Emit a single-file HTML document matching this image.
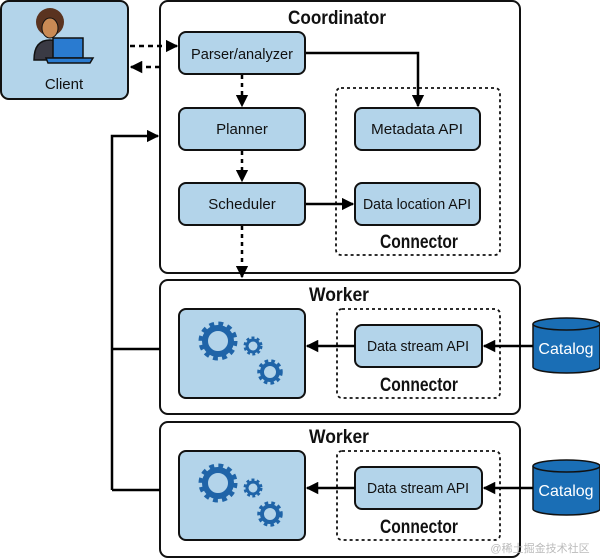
<!DOCTYPE html>
<html><head><meta charset="utf-8"><style>body{margin:0;background:#fff}svg{display:block}text{font-family:"Liberation Sans",sans-serif;fill:#111}</style></head><body>
<svg width="600" height="559" viewBox="0 0 600 559" xmlns="http://www.w3.org/2000/svg">
<defs>
<marker id="a" viewBox="0 0 10 10" refX="9" refY="5" markerWidth="5" markerHeight="5" orient="auto"><path d="M0,0L10,5L0,10z" fill="#000"/></marker>
</defs>
<g stroke="#111" stroke-width="2" fill="#fff">
<rect x="160" y="1" width="360" height="272" rx="8"/>
<rect x="160" y="280" width="360" height="134" rx="8"/>
<rect x="160" y="422" width="360" height="135" rx="8"/>
</g>
<g stroke="#111" stroke-width="2" fill="#b3d4ea">
<rect x="1" y="1" width="127" height="98" rx="8"/>
<rect x="179" y="32" width="126" height="42" rx="7"/>
<rect x="179" y="108" width="126" height="42" rx="7"/>
<rect x="179" y="183" width="126" height="42" rx="7"/>
<rect x="355" y="108" width="125" height="42" rx="7"/>
<rect x="355" y="183" width="125" height="42" rx="7"/>
<rect x="179" y="309" width="126" height="89" rx="7"/>
<rect x="355" y="325" width="127" height="42" rx="7"/>
<rect x="179" y="451" width="126" height="89" rx="7"/>
<rect x="355" y="467" width="127" height="42" rx="7"/>
</g>
<g stroke="#111" stroke-width="1.8" fill="none" stroke-dasharray="3 3">
<rect x="336" y="88" width="164" height="167" rx="5"/>
<rect x="337" y="309" width="163" height="89" rx="5"/>
<rect x="337" y="451" width="163" height="89" rx="5"/>
</g>
<!-- client icon -->
<circle cx="50" cy="22" r="14" fill="#5a3320"/>
<path d="M34,60 Q34,40 50,40 Q66,40 66,60z" fill="#3a3a44" stroke="#111" stroke-width="1.5"/>
<ellipse cx="50" cy="28" rx="8" ry="10" fill="#c98a55" stroke="#111" stroke-width="1"/>
<rect x="53" y="38" width="30" height="20" fill="#2a7bd0" stroke="#111" stroke-width="1.5"/>
<path d="M46,58h47l-3,5h-42z" fill="#2a7bd0" stroke="#111" stroke-width="1.5"/>
<!-- cylinders -->
<g fill="#1a6eb5" stroke="#111" stroke-width="1.5">
<path d="M533,324v43a33.5,6 0 0 0 67,0v-43"/><ellipse cx="566.5" cy="324" rx="33.5" ry="6"/>
<path d="M533,466v43a33.5,6 0 0 0 67,0v-43"/><ellipse cx="566.5" cy="466" rx="33.5" ry="6"/>
</g>
<!-- gears -->
<g fill="none" stroke="#1f64a8">
<g>
<circle cx="218" cy="341" r="16" stroke-width="7" stroke-dasharray="4.5 3.9"/><circle cx="218" cy="341" r="13" stroke-width="6"/>
<circle cx="253" cy="346" r="7" stroke-width="5" stroke-dasharray="2.5 2"/><circle cx="253" cy="346" r="6" stroke-width="3"/>
<circle cx="270" cy="372" r="10" stroke-width="5.5" stroke-dasharray="3.2 2.8"/><circle cx="270" cy="372" r="8" stroke-width="4"/>
</g>
<g transform="translate(0,142)">
<circle cx="218" cy="341" r="16" stroke-width="7" stroke-dasharray="4.5 3.9"/><circle cx="218" cy="341" r="13" stroke-width="6"/>
<circle cx="253" cy="346" r="7" stroke-width="5" stroke-dasharray="2.5 2"/><circle cx="253" cy="346" r="6" stroke-width="3"/>
<circle cx="270" cy="372" r="10" stroke-width="5.5" stroke-dasharray="3.2 2.8"/><circle cx="270" cy="372" r="8" stroke-width="4"/>
</g>
</g>
<!-- connectors -->
<g stroke="#000" stroke-width="2.5" fill="none">
<path d="M130,46H177" stroke-dasharray="5 4" marker-end="url(#a)"/>
<path d="M160,67H131" stroke-dasharray="5 4" marker-end="url(#a)"/>
<path d="M242,75V106" stroke-dasharray="4 4" marker-end="url(#a)"/>
<path d="M242,151V181" stroke-dasharray="4 4" marker-end="url(#a)"/>
<path d="M242,226V277" stroke-dasharray="4 4" marker-end="url(#a)"/>
<path d="M306,53H418V106" marker-end="url(#a)"/>
<path d="M306,204H353" marker-end="url(#a)"/>
<path d="M112,490V136H158" marker-end="url(#a)"/>
<path d="M112,349H160M112,490H160"/>
<path d="M533,346H484" marker-end="url(#a)"/>
<path d="M355,346H307" marker-end="url(#a)"/>
<path d="M533,488H484" marker-end="url(#a)"/>
<path d="M355,488H307" marker-end="url(#a)"/>
</g>
<g font-size="15" text-anchor="middle">
<text x="64" y="89">Client</text>
<text x="242" y="59" textLength="102" lengthAdjust="spacingAndGlyphs">Parser/analyzer</text>
<text x="242" y="134">Planner</text>
<text x="242" y="209">Scheduler</text>
<text x="417" y="134" textLength="92" lengthAdjust="spacingAndGlyphs">Metadata API</text>
<text x="417" y="209" textLength="108" lengthAdjust="spacingAndGlyphs">Data location API</text>
<text x="418" y="351" textLength="102" lengthAdjust="spacingAndGlyphs">Data stream API</text>
<text x="418" y="493" textLength="102" lengthAdjust="spacingAndGlyphs">Data stream API</text>
<text x="566" y="354" style="fill:#fff" font-size="16">Catalog</text>
<text x="566" y="496" style="fill:#fff" font-size="16">Catalog</text>
</g>
<g font-size="19" text-anchor="middle" font-weight="bold">
<text x="337" y="24" textLength="98" lengthAdjust="spacingAndGlyphs">Coordinator</text>
<text x="339" y="301" textLength="60" lengthAdjust="spacingAndGlyphs">Worker</text>
<text x="339" y="443" textLength="60" lengthAdjust="spacingAndGlyphs">Worker</text>
<text x="419" y="248" textLength="78" lengthAdjust="spacingAndGlyphs">Connector</text>
<text x="419" y="391" textLength="78" lengthAdjust="spacingAndGlyphs">Connector</text>
<text x="419" y="533" textLength="78" lengthAdjust="spacingAndGlyphs">Connector</text>
</g>
<text x="540" y="552" font-size="11" text-anchor="middle" style="fill:#bbb">@稀土掘金技术社区</text>
</svg>
</body></html>
